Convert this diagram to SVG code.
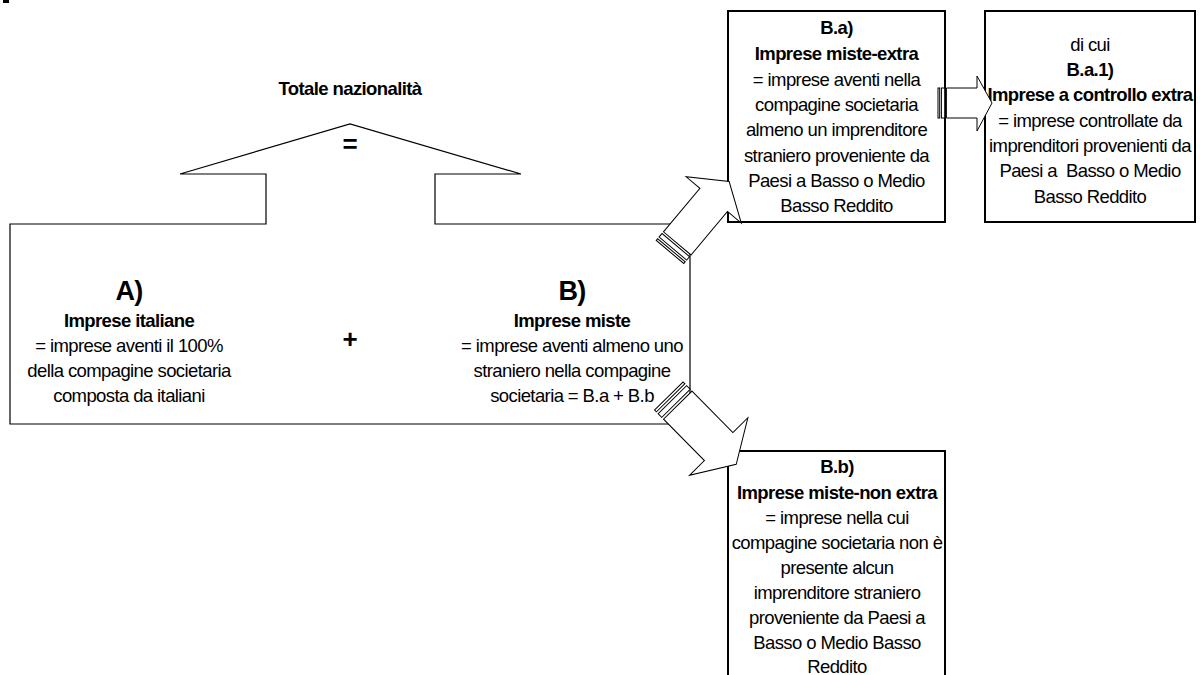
<svg xmlns="http://www.w3.org/2000/svg" width="1200" height="675" viewBox="0 0 1200 675">
<style>
text{font-family:"Liberation Sans",Arial,sans-serif;font-size:18.5px;letter-spacing:-0.6px;fill:#000;text-anchor:middle}
.b{font-weight:bold}
.big{font-weight:bold;font-size:27px;letter-spacing:-0.8px}
.sym{font-weight:bold;font-size:26px;letter-spacing:0}
.pre{white-space:pre}
.shape{fill:#fff;stroke:#000;stroke-width:1.2}
.box{fill:#fff;stroke:#000;stroke-width:2}
.arr{fill:#fff;stroke:#000;stroke-width:1;stroke-linejoin:miter}
</style>
<rect x="3" y="0" width="6" height="3" fill="#000"/>
<g id="node-totale">
<polygon class="shape" points="10,224 266,224 266,174 180,174 350,124 521,174 435,174 435,224 690,224 690,424 10,424"/>
<text class="b" x="350" y="95">Totale nazionalità</text>
<text class="sym" x="350" y="153">=</text>
</g>
<g id="node-A">
<text class="big" x="129" y="300">A)</text>
<text class="b" x="129" y="327">Imprese italiane</text>
<text x="129" y="352">= imprese aventi il 100%</text>
<text x="129" y="377">della compagine societaria</text>
<text x="129" y="402">composta da italiani</text>
</g>
<g id="node-plus">
<text class="sym" x="350" y="348">+</text>
</g>
<g id="node-B">
<text class="big" x="572" y="300">B)</text>
<text class="b" x="572" y="327">Imprese miste</text>
<text x="572" y="352">= imprese aventi almeno uno</text>
<text x="572" y="377">straniero nella compagine</text>
<text x="572" y="402">societaria = B.a + B.b</text>
</g>
<g id="node-Ba">
<rect class="box" x="728" y="11" width="217" height="211"/>
<text class="b" x="836.5" y="34">B.a)</text>
<text class="b" x="836.5" y="60">Imprese miste-extra</text>
<text x="836.5" y="86">= imprese aventi nella</text>
<text x="836.5" y="111">compagine societaria</text>
<text x="836.5" y="136">almeno un imprenditore</text>
<text x="836.5" y="162">straniero proveniente da</text>
<text x="836.5" y="187">Paesi a Basso o Medio</text>
<text x="836.5" y="212">Basso Reddito</text>
</g>
<g id="node-Ba1">
<rect class="box" x="985" y="11" width="210" height="211"/>
<text x="1090" y="51">di cui</text>
<text class="b" x="1090" y="76">B.a.1)</text>
<text class="b" x="1090" y="101">Imprese a controllo extra</text>
<text x="1090" y="127">= imprese controllate da</text>
<text x="1090" y="152">imprenditori provenienti da</text>
<text class="pre" x="1090" y="177">Paesi a  Basso o Medio</text>
<text x="1090" y="203">Basso Reddito</text>
</g>
<g id="node-Bb">
<path class="box" d="M728,680 V451 H945 V680"/>
<text class="b" x="837" y="473">B.b)</text>
<text class="b" x="837" y="499">Imprese miste-non extra</text>
<text x="837" y="524">= imprese nella cui</text>
<text x="837" y="549">compagine societaria non è</text>
<text x="837" y="574">presente alcun</text>
<text x="837" y="599">imprenditore straniero</text>
<text x="837" y="624">proveniente da Paesi a</text>
<text x="837" y="649">Basso o Medio Basso</text>
<text x="837" y="673">Reddito</text>
</g>
<g id="connectors">
<g transform="translate(670,252) rotate(-50)">
<rect class="arr" x="0" y="-18" width="2.25" height="36"/>
<rect class="arr" x="4.5" y="-18" width="4.5" height="36"/>
<path class="arr" d="M11.25,-18 H68 V-36 L92,0 L68,36 V18 H11.25 Z"/>
</g>
<g transform="translate(668.8,396) rotate(45.4)">
<rect class="arr" x="0" y="-20" width="2.6" height="40"/>
<rect class="arr" x="5.1" y="-20" width="5.15" height="40"/>
<path class="arr" d="M12.8,-20 H71 V-41 L96,0 L71,41 V20 H12.8 Z"/>
</g>
<g>
<rect class="arr" x="938" y="88" width="1.7" height="30"/>
<rect class="arr" x="941.4" y="88" width="3.35" height="30"/>
<path class="arr" d="M946.4,88 H977 V76 L992,103 L977,131 V118 H946.4 Z"/>
</g>
</g>
</svg>
